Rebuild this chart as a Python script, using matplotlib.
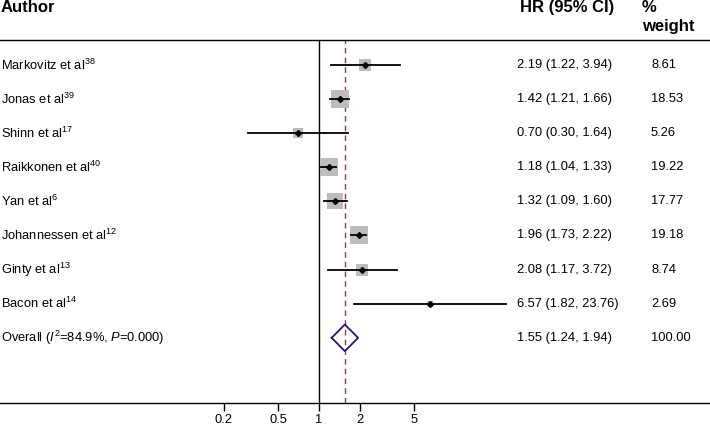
"""Forest plot of hazard ratios from the meta-analysis."""
import numpy as np
import matplotlib
matplotlib.use("Agg")
import matplotlib.pyplot as plt
from matplotlib.ticker import FixedLocator, FixedFormatter, NullLocator
from matplotlib.transforms import blended_transform_factory

plt.rcParams["font.family"] = ["Liberation Sans", "DejaVu Sans"]
plt.rcParams["mathtext.fontset"] = "custom"
plt.rcParams["mathtext.rm"] = "Liberation Sans"
plt.rcParams["mathtext.it"] = "Liberation Sans:italic"

AUTHORS = ["Markovitz et al$^{38}$", "Jonas et al$^{39}$", "Shinn et al$^{17}$",
           "Raikkonen et al$^{40}$", "Yan et al$^{6}$", "Johannessen et al$^{12}$",
           "Ginty et al$^{13}$", "Bacon et al$^{14}$"]
HR = [2.19, 1.42, 0.70, 1.18, 1.32, 1.96, 2.08, 6.57]
LOW = [1.22, 1.21, 0.30, 1.04, 1.09, 1.73, 1.17, 1.82]
HIGH = [3.94, 1.66, 1.64, 1.33, 1.60, 2.22, 3.72, 23.76]
WEIGHT = [8.61, 18.53, 5.26, 19.22, 17.77, 19.18, 8.74, 2.69]

OVERALL_LABEL = "Overall ($I^2$=84.9%, $P$=0.000)"
OVERALL = (1.55, 1.24, 1.94)
OVERALL_WEIGHT = 100.00

TICKS = [0.2, 0.5, 1, 2, 5]
TICK_LABELS = ["0.2", "0.5", "1", "2", "5"]

FS = 9.3
HFS = 12


def main() -> None:
    fig = plt.figure(figsize=(7.1, 4.25), dpi=100)
    ax = fig.add_axes([0, 22 / 425, 1, (403 - 40) / 425])
    ax.set_xscale("log")
    ax.set_xlim(10 ** -2.345, 10 ** 2.875)
    ax.set_ylim(9.91, -0.73)

    n = len(HR)
    rows = np.arange(n)

    # boxes, CI lines and point estimates
    for y, hr, lo, hi, w in zip(rows, HR, LOW, HIGH, WEIGHT):
        ax.scatter(hr, y, marker="s", s=8.3 * w, color="#bdbdbd", lw=0, zorder=2)
        ax.plot([lo, hi], [y, y], color="black", lw=1.3, zorder=3)
        ax.plot(hr, y, marker="D", ms=3, color="black", zorder=4)

    # overall diamond
    o_est, o_lo, o_hi = OVERALL
    yo = n
    ax.plot([o_lo, o_est, o_hi, o_est, o_lo], [yo, yo - 0.39, yo, yo + 0.39, yo],
            color="#1c1c6b", lw=1.3, zorder=4)

    ax.axvline(1, color="black", lw=1.0, zorder=1)
    ax.axvline(o_est, color="#9b3050", lw=1.0, dashes=(4, 3), zorder=1)

    for side in ["left", "right"]:
        ax.spines[side].set_visible(False)
    ax.spines["top"].set_linewidth(1.0)
    ax.spines["bottom"].set_linewidth(1.0)

    ax.yaxis.set_major_locator(NullLocator())
    ax.xaxis.set_major_locator(FixedLocator(TICKS))
    ax.xaxis.set_major_formatter(FixedFormatter(TICK_LABELS))
    ax.xaxis.set_minor_locator(NullLocator())
    ax.tick_params(axis="x", direction="out", length=6, width=1.0,
                   labelsize=FS, pad=2)

    trans = blended_transform_factory(ax.transAxes, ax.transData)
    x_auth, x_hr, x_w = 1 / 710, 517 / 710, 651 / 710
    for y, name, hr, lo, hi, w in zip(rows, AUTHORS, HR, LOW, HIGH, WEIGHT):
        ax.text(x_auth, y, name, transform=trans, va="center", fontsize=FS)
        ax.text(x_hr, y, f"{hr:.2f} ({lo:.2f}, {hi:.2f})", transform=trans,
                va="center", fontsize=FS)
        ax.text(x_w, y, f"{w:.2f}", transform=trans, va="center", fontsize=FS)
    ax.text(x_auth, yo, OVERALL_LABEL, transform=trans, va="center", fontsize=FS)
    ax.text(x_hr, yo, f"{o_est:.2f} ({o_lo:.2f}, {o_hi:.2f})", transform=trans,
            va="center", fontsize=FS)
    ax.text(x_w, yo, f"{OVERALL_WEIGHT:.2f}", transform=trans, va="center", fontsize=FS)

    # header
    ax.text(x_auth, -1.68, "Author", transform=trans, va="center",
            fontsize=HFS, fontweight="bold")
    ax.text(520 / 710, -1.68, "HR (95% CI)", transform=trans, va="center",
            fontsize=HFS, fontweight="bold")
    ax.text(642 / 710, -1.68, "%", transform=trans, va="center",
            fontsize=HFS, fontweight="bold")
    ax.text(642 / 710, -1.13, "weight", transform=trans, va="center",
            fontsize=HFS, fontweight="bold")

    fig.savefig("out.png", dpi=100)


if __name__ == "__main__":
    main()
